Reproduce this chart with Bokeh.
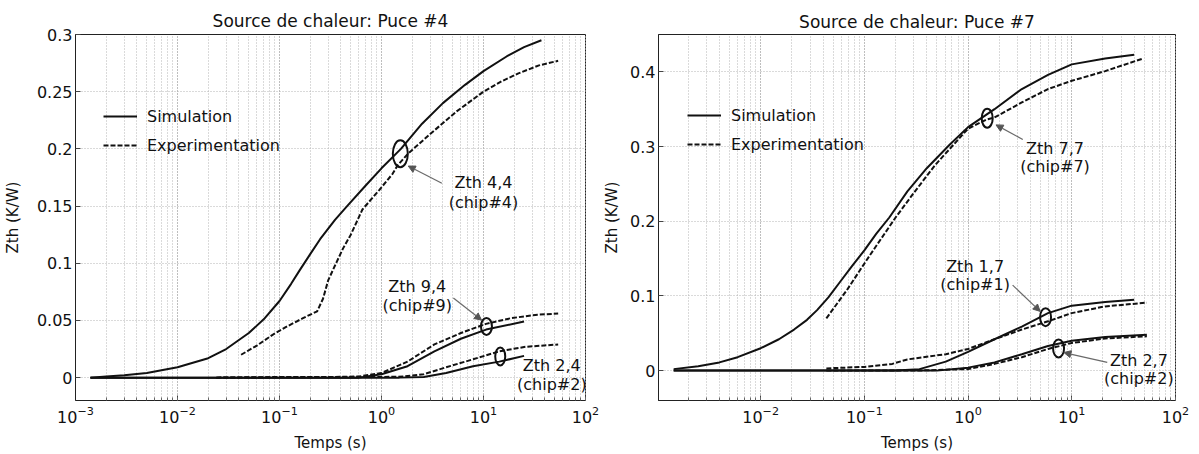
from bokeh.plotting import figure
from bokeh.models import (Range1d, FixedTicker, CustomJSTickFormatter, Legend, LegendItem,
                          Arrow, NormalHead, ColumnDataSource, LabelSet)
from bokeh.layouts import row
from bokeh.embed import file_html
from bokeh.resources import INLINE
from bokeh.core.properties import value

FONT = "DejaVu Sans"

# ---------------- data: left panel (heat source chip #4) ----------------
L_TITLE = "Source de chaleur: Puce #4"
L_YTICKS = [0, 0.05, 0.1, 0.15, 0.2, 0.25, 0.3]

L_SIM44_T = [0.0014, 0.002, 0.003, 0.005, 0.01, 0.02, 0.03, 0.05, 0.07, 0.1, 0.13, 0.158, 0.2, 0.25,
             0.35, 0.46, 0.7, 1.0, 1.55, 2.5, 4.0, 6.6, 10, 17, 25, 37]
L_SIM44_Z = [0.0, 0.001, 0.002, 0.004, 0.009, 0.017, 0.025, 0.039, 0.051, 0.067, 0.082, 0.094, 0.108,
             0.121, 0.138, 0.150, 0.168, 0.183, 0.200, 0.222, 0.240, 0.256, 0.268, 0.281, 0.289, 0.295]
L_EXP44_T = [0.042, 0.06, 0.084, 0.12, 0.17, 0.234, 0.267, 0.3, 0.35, 0.42, 0.5, 0.65, 0.95, 1.28,
             1.45, 1.83, 3.0, 5.5, 10, 15, 22, 35, 54]
L_EXP44_Z = [0.020, 0.028, 0.037, 0.045, 0.052, 0.058, 0.069, 0.085, 0.098, 0.113, 0.125, 0.147,
             0.164, 0.178, 0.186, 0.196, 0.213, 0.233, 0.250, 0.259, 0.266, 0.273, 0.277]
L_SIM94_T = [0.0014, 0.6, 1.0, 1.8, 3.3, 6.0, 10.6, 25]
L_SIM94_Z = [0.0, 0.0, 0.003, 0.010, 0.023, 0.034, 0.042, 0.049]
L_EXP94_T = [0.024, 0.1, 0.3, 0.6, 1.0, 1.8, 3.3, 6.0, 10.6, 18.6, 34, 54]
L_EXP94_Z = [0.0, 0.0005, 0.0005, 0.001, 0.004, 0.014, 0.029, 0.039, 0.047, 0.052, 0.055, 0.056]
L_SIM24_T = [0.0014, 1.5, 2.6, 4.3, 7.9, 14.3, 25]
L_SIM24_Z = [0.0, 0.0, 0.0005, 0.004, 0.010, 0.014, 0.019]
L_EXP24_T = [0.024, 0.3, 1.0, 1.66, 2.6, 4.3, 7.9, 14.3, 26, 54]
L_EXP24_Z = [0.0, 0.0005, 0.0005, 0.001, 0.003, 0.009, 0.016, 0.023, 0.027, 0.029]

# annotations (left)
L_ANN_TEXT = ["Zth 4,4", "(chip#4)", "Zth 9,4", "(chip#9)", "Zth 2,4", "(chip#2)"]
L_ANN_X = [10.0, 10.0, 2.24, 2.24, 46.8, 46.8]
L_ANN_Y = [0.171, 0.153, 0.0793, 0.0629, 0.0103, -0.006]
L_ELL_X = [1.53, 10.7, 14.6]
L_ELL_Y = [0.1957, 0.0448, 0.0185]
L_ELL_W = [15, 11, 10]
L_ELL_H = [27, 17, 18]
L_ARR_X0 = [3.91, 5.07]
L_ARR_Y0 = [0.170, 0.0696]
L_ARR_X1 = [1.83, 9.57]
L_ARR_Y1 = [0.185, 0.0503]

# ---------------- data: right panel (heat source chip #7) ----------------
R_TITLE = "Source de chaleur: Puce #7"
R_YTICKS = [0, 0.1, 0.2, 0.3, 0.4]

R_SIM77_T = [0.00145, 0.0025, 0.004, 0.006, 0.01, 0.015, 0.021, 0.028, 0.035, 0.045, 0.057, 0.075,
             0.1, 0.13, 0.174, 0.26, 0.4, 0.66, 1.0, 1.8, 3.3, 5.9, 10, 21, 40]
R_SIM77_Z = [0.002, 0.006, 0.011, 0.018, 0.030, 0.042, 0.055, 0.068, 0.081, 0.098, 0.117, 0.139,
             0.161, 0.183, 0.205, 0.240, 0.271, 0.302, 0.326, 0.350, 0.377, 0.396, 0.410, 0.418, 0.423]
R_EXP77_T = [0.043, 0.068, 0.11, 0.2, 0.3, 0.48, 1.0, 1.5, 1.8, 3.3, 5.9, 10, 21, 49]
R_EXP77_Z = [0.070, 0.108, 0.152, 0.205, 0.238, 0.275, 0.324, 0.336, 0.339, 0.359, 0.377, 0.388, 0.401, 0.418]
R_SIM17_T = [0.00145, 0.2, 0.34, 0.61, 1.0, 1.8, 3.3, 5.9, 10, 21, 40]
R_SIM17_Z = [0.0, 0.0, 0.002, 0.012, 0.025, 0.042, 0.059, 0.077, 0.087, 0.092, 0.095]
R_EXP17_T = [0.043, 0.1, 0.186, 0.26, 0.61, 1.0, 1.8, 3.3, 5.9, 10, 21, 53]
R_EXP17_Z = [0.003, 0.005, 0.009, 0.015, 0.022, 0.029, 0.042, 0.055, 0.066, 0.077, 0.086, 0.091]
R_SIM27_T = [0.00145, 0.5, 1.0, 1.8, 3.3, 5.9, 10, 21, 53]
R_SIM27_Z = [0.0, 0.0, 0.004, 0.011, 0.022, 0.033, 0.040, 0.045, 0.048]
R_EXP27_T = [0.043, 0.3, 1.0, 1.8, 3.3, 5.9, 10, 21, 53]
R_EXP27_Z = [0.0, 0.0, 0.002, 0.009, 0.018, 0.029, 0.037, 0.043, 0.046]

# annotations (right)
R_ANN_TEXT = ["Zth 7,7", "(chip#7)", "Zth 1,7", "(chip#1)", "Zth 2,7", "(chip#2)"]
R_ANN_X = [6.9, 6.9, 1.17, 1.17, 44.4, 44.4]
R_ANN_Y = [0.297, 0.273, 0.1396, 0.1152, 0.0139, -0.011]
R_ELL_X = [1.53, 5.59, 7.46]
R_ELL_Y = [0.338, 0.0716, 0.0297]
R_ELL_W = [11, 11, 11]
R_ELL_H = [19, 18, 18]
R_ARR_X0 = [3.37, 2.69, 22.0]
R_ARR_Y0 = [0.3095, 0.1145, 0.011]
R_ARR_X1 = [1.86, 4.96, 8.4]
R_ARR_Y1 = [0.329, 0.0793, 0.0242]

GRID = "#b5b5b5"


def make_panel(title, xr, yr, yticks, sims, exps, ann, ell, arr, width, borders, title_standoff,
               leg_loc, ylabel_standoff):
    bl, br, bt, bb = borders
    p = figure(width=width, height=454, x_axis_type="log",
               x_range=Range1d(*xr), y_range=Range1d(*yr),
               output_backend="svg", toolbar_location=None,
               min_border_left=bl, min_border_right=br, min_border_top=bt, min_border_bottom=bb,
               background_fill_color="white", border_fill_color="white")
    p.title.text = title
    p.title.align = "center"
    p.title.text_font = FONT
    p.title.text_font_size = "17px"
    p.title.text_font_style = "normal"
    p.title.text_color = "#111111"
    p.title.standoff = title_standoff

    p.outline_line_color = "#222222"
    p.outline_line_width = 1

    for ax in (p.xaxis[0], p.yaxis[0]):
        ax.major_label_text_font = FONT
        ax.major_label_text_font_size = "16px"
        ax.major_label_text_color = "#111111"
        ax.axis_label_text_font = FONT
        ax.axis_label_text_font_size = "15px"
        ax.axis_label_text_font_style = "normal"
        ax.axis_label_text_color = "#111111"
        ax.axis_line_color = "#222222"
        ax.major_tick_in = 5
        ax.major_tick_out = 0
        ax.minor_tick_in = 3
        ax.minor_tick_out = 0
        ax.major_tick_line_color = "#444444"
        ax.minor_tick_line_color = "#666666"

    p.xaxis.axis_label = "Temps (s)"
    p.xaxis.major_label_standoff = 5
    p.xaxis.axis_label_standoff = 8
    p.yaxis.axis_label = "Zth (K/W)"
    p.yaxis.ticker = FixedTicker(ticks=yticks)
    p.yaxis.formatter = CustomJSTickFormatter(code="return Number(tick.toFixed(3)).toString();")
    p.yaxis.minor_tick_line_color = None
    p.yaxis.major_label_standoff = 3
    p.yaxis.axis_label_standoff = ylabel_standoff

    p.xgrid.grid_line_color = GRID
    p.xgrid.grid_line_dash = "1 2"
    p.xgrid.minor_grid_line_color = GRID
    p.xgrid.minor_grid_line_dash = "1 2"
    p.ygrid.grid_line_color = GRID
    p.ygrid.grid_line_dash = "1 2"

    sim_r = []
    for t, z in sims:
        sim_r.append(p.line(t, z, line_color="#111111", line_width=2))
    exp_r = []
    for t, z in exps:
        exp_r.append(p.line(t, z, line_color="#111111", line_width=2, line_dash="5 2"))

    ex, ey, ew, eh = ell
    esrc = ColumnDataSource(dict(x=ex, y=ey, w=ew, h=eh))
    p.ellipse(x="x", y="y", width="w", height="h", width_units="screen", height_units="screen",
              source=esrc, fill_alpha=0, line_color="#111111", line_width=2)

    ax0, ay0, ax1, ay1 = arr
    asrc = ColumnDataSource(dict(x0=ax0, y0=ay0, x1=ax1, y1=ay1))
    p.add_layout(Arrow(end=NormalHead(size=7, fill_color="#555555", line_color="#555555"),
                       x_start="x0", y_start="y0", x_end="x1", y_end="y1", source=asrc,
                       line_color="#6a6a6a", line_width=1.2))

    tx, ty, tt = ann
    tsrc = ColumnDataSource(dict(x=tx, y=ty, t=tt))
    p.add_layout(LabelSet(x="x", y="y", text="t", source=tsrc, text_align="center",
                          text_baseline="middle", text_font=value(FONT),
                          text_font_size=value("16px"), text_color="#111111"))

    legend = Legend(items=[LegendItem(label="Simulation", renderers=[sim_r[0]]),
                           LegendItem(label="Experimentation", renderers=[exp_r[0]])],
                    location=leg_loc, background_fill_alpha=0, border_line_color=None,
                    label_text_font=FONT, label_text_font_size="16px", label_text_color="#111111",
                    glyph_width=34, glyph_height=20, label_height=20, label_standoff=10,
                    spacing=9, padding=5)
    p.add_layout(legend)
    return p


left = make_panel(L_TITLE, (0.000999, 100.1), (-0.02, 0.3), L_YTICKS,
                  [(L_SIM44_T, L_SIM44_Z), (L_SIM94_T, L_SIM94_Z), (L_SIM24_T, L_SIM24_Z)],
                  [(L_EXP44_T, L_EXP44_Z), (L_EXP94_T, L_EXP94_Z), (L_EXP24_T, L_EXP24_Z)],
                  (L_ANN_X, L_ANN_Y, L_ANN_TEXT), (L_ELL_X, L_ELL_Y, L_ELL_W, L_ELL_H),
                  (L_ARR_X0, L_ARR_Y0, L_ARR_X1, L_ARR_Y1),
                  600, (70, 15, 32, 51), 7, (28, 245), 12)

right = make_panel(R_TITLE, (0.001035, 100.1), (-0.04, 0.45), R_YTICKS,
                   [(R_SIM77_T, R_SIM77_Z), (R_SIM17_T, R_SIM17_Z), (R_SIM27_T, R_SIM27_Z)],
                   [(R_EXP77_T, R_EXP77_Z), (R_EXP17_T, R_EXP17_Z), (R_EXP27_T, R_EXP27_Z)],
                   (R_ANN_X, R_ANN_Y, R_ANN_TEXT), (R_ELL_X, R_ELL_Y, R_ELL_W, R_ELL_H),
                   (R_ARR_X0, R_ARR_Y0, R_ARR_X1, R_ARR_Y1),
                   599, (54, 24, 34, 49), 5, (29, 246), 6)

layout = row(left, right)
open("out.html", "w").write(file_html(layout, INLINE))
